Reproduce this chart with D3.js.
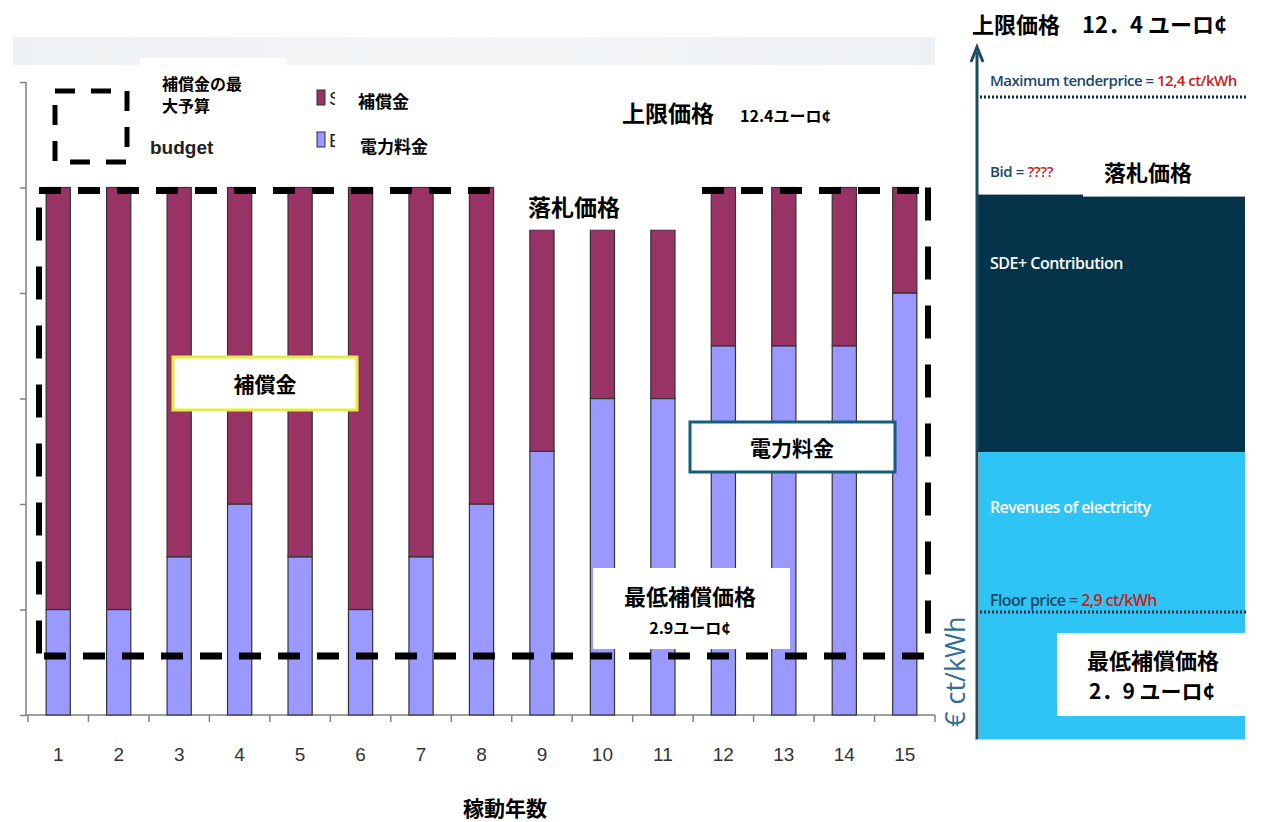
<!DOCTYPE html>
<html>
<head>
<meta charset="utf-8">
<script src="https://cdn.jsdelivr.net/npm/d3@7"></script>
<style>
  body { margin: 0; background: #fff; }
  svg { display: block; }
</style>
</head>
<body>
<div id="chart"></div>
<script>
'use strict'

// ---------------- data ----------------
const years = ['1', '2', '3', '4', '5', '6', '7', '8', '9', '10', '11', '12', '13', '14', '15']
const electricity = [1, 1, 1.5, 2, 1.5, 1, 1.5, 2, 2.5, 3, 3, 3.5, 3.5, 3.5, 4]
const subsidy = [4, 4, 3.5, 3, 3.5, 4, 3.5, 3, 2.1, 1.6, 1.6, 1.5, 1.5, 1.5, 1]
const yTicks = [0, 1, 2, 3, 4, 5, 6]
const budgetTop = 5
const budgetFloor = 0.56

// right hand schematic (ct/kWh)
const maxPrice = 12.4
const floorPrice = 2.9
const bidLevel = 10.6
const revenueLevel = 5.85
const panelBase = 0.55

const jp = '"Noto Sans CJK JP", sans-serif'
const en = '"Open Sans", sans-serif'

const svg = d3.select('#chart').append('svg')
    .attr('width', 1270)
    .attr('height', 822)

////////////// scales //////////////
const x = d3.scaleBand()
    .domain(years)
    .range([28, 935])
    .paddingInner(0.6)
    .paddingOuter(0.3)

const y = d3.scaleLinear()
    .domain([0, 6])
    .range([715, 82])

const rY = d3.scaleLinear()
    .domain([floorPrice, maxPrice])
    .range([612, 97])

// faint band at the top (slide header remains)
const grad = svg.append('defs').append('linearGradient').attr('id', 'band')
grad.append('stop').attr('offset', '0%').attr('stop-color', '#eef1f3')
grad.append('stop').attr('offset', '50%').attr('stop-color', '#f3f5f7')
grad.append('stop').attr('offset', '100%').attr('stop-color', '#eef1f4')
svg.append('rect')
    .attr('x', 13).attr('y', 37).attr('width', 922).attr('height', 28)
    .attr('fill', 'url(#band)')

////////////// axes //////////////
const yAxis = svg.append('g')
    .attr('transform', 'translate(26,0)')
    .call(d3.axisLeft(y).tickValues(yTicks).tickSize(6).tickFormat(''))
yAxis.select('.domain').attr('stroke', '#808080').attr('stroke-width', 1.5).attr('d', `M0,${y(6)}V${y(0)}`)
yAxis.selectAll('.tick line').attr('stroke', '#808080').attr('stroke-width', 1.5)

const step = x.step()
const boundaries = years.map(d => x(d) - x.paddingInner() * step / 2)
boundaries.push(x(years[years.length - 1]) + x.bandwidth() + x.paddingInner() * step / 2)

svg.append('line')
    .attr('x1', 26).attr('x2', 935).attr('y1', y(0)).attr('y2', y(0))
    .attr('stroke', '#808080').attr('stroke-width', 1.5)
svg.selectAll('.xtick')
    .data(boundaries)
    .join('line')
    .attr('class', 'xtick')
    .attr('x1', d => d).attr('x2', d => d)
    .attr('y1', y(0)).attr('y2', y(0) + 7)
    .attr('stroke', '#808080').attr('stroke-width', 1.5)

const xAxis = svg.append('g')
    .attr('transform', `translate(0,${y(0)})`)
    .call(d3.axisBottom(x).tickSize(0).tickPadding(33))
xAxis.select('.domain').remove()
xAxis.selectAll('text')
    .attr('font-family', '"Liberation Sans", Arial, sans-serif')
    .attr('font-size', 19)
    .attr('fill', '#333')

svg.append('text')
    .attr('x', 505).attr('y', 816)
    .attr('text-anchor', 'middle')
    .attr('font-family', jp).attr('font-size', 21).attr('font-weight', 700)
    .text('稼動年数')

////////////// bars //////////////
const table = years.map((d, i) => ({ year: d, electricity: electricity[i], subsidy: subsidy[i] }))
const stacked = d3.stack().keys(['electricity', 'subsidy'])(table)
const colors = { electricity: '#9999ff', subsidy: '#993366' }

svg.selectAll('.series')
    .data(stacked)
    .join('g')
    .attr('class', 'series')
    .attr('fill', d => colors[d.key])
    .selectAll('rect')
    .data(d => d)
    .join('rect')
    .attr('x', d => x(d.data.year))
    .attr('width', x.bandwidth())
    .attr('y', d => y(d[1]))
    .attr('height', d => y(d[0]) - y(d[1]))
    .attr('stroke', '#333')
    .attr('stroke-width', 1.2)

////////////// budget box (dashed) //////////////
const left = 39, right = 928
const dashH = { 'stroke': '#000', 'stroke-width': 7, 'stroke-dasharray': '22,17' }
const dashV = { 'stroke': '#000', 'stroke-width': 6, 'stroke-dasharray': '33,26' }
function styled(sel, st) { Object.keys(st).forEach(k => sel.attr(k, st[k])); return sel }

styled(svg.append('line').attr('x1', left).attr('x2', right).attr('y1', y(budgetTop) + 3).attr('y2', y(budgetTop) + 3), dashH)
styled(svg.append('line').attr('x1', left + 5).attr('x2', right).attr('y1', y(budgetFloor)).attr('y2', y(budgetFloor)), dashH)
styled(svg.append('line').attr('x1', left).attr('x2', left).attr('y1', y(budgetTop) + 20).attr('y2', y(budgetFloor)), dashV)
styled(svg.append('line').attr('x1', right).attr('x2', right).attr('y1', y(budgetTop)).attr('y2', y(budgetFloor)), dashV)

////////////// annotation boxes //////////////
// 落札価格 (covers the top of the dashed line over years 9-11)
svg.append('rect')
    .attr('x', 495).attr('y', 178).attr('width', 197).attr('height', y(electricity[8] + subsidy[8]) - 178)
    .attr('fill', '#fff')
svg.append('text')
    .attr('x', 528).attr('y', 216)
    .attr('font-family', jp).attr('font-size', 23).attr('font-weight', 700)
    .text('落札価格')

svg.append('rect')
    .attr('x', 173).attr('y', 357).attr('width', 184).attr('height', 53)
    .attr('fill', '#fff').attr('stroke', '#e4ee3e').attr('stroke-width', 3)
svg.append('text')
    .attr('x', 265).attr('y', 392).attr('text-anchor', 'middle')
    .attr('font-family', jp).attr('font-size', 21).attr('font-weight', 700)
    .text('補償金')

svg.append('rect')
    .attr('x', 690).attr('y', 422).attr('width', 205).attr('height', 50)
    .attr('fill', '#fff').attr('stroke', '#145e78').attr('stroke-width', 3)
svg.append('text')
    .attr('x', 792).attr('y', 456).attr('text-anchor', 'middle')
    .attr('font-family', jp).attr('font-size', 21).attr('font-weight', 700)
    .text('電力料金')

svg.append('rect')
    .attr('x', 593).attr('y', 568).attr('width', 197).attr('height', 81)
    .attr('fill', '#fff')
svg.append('text')
    .attr('x', 690).attr('y', 605).attr('text-anchor', 'middle')
    .attr('font-family', jp).attr('font-size', 22).attr('font-weight', 700)
    .text('最低補償価格')
svg.append('text')
    .attr('x', 690).attr('y', 634).attr('text-anchor', 'middle')
    .attr('font-family', jp).attr('font-size', 16).attr('font-weight', 700)
    .text('2.9ユーロ¢')

svg.append('text')
    .attr('x', 622).attr('y', 122)
    .attr('font-family', jp).attr('font-size', 23).attr('font-weight', 700)
    .text('上限価格')
svg.append('text')
    .attr('x', 740).attr('y', 122)
    .attr('font-family', jp).attr('font-size', 16).attr('font-weight', 700)
    .text('12.4ユーロ¢')

////////////// legend //////////////
svg.append('rect')
    .attr('x', 55).attr('y', 91).attr('width', 72).attr('height', 71)
    .attr('fill', 'none').attr('stroke', '#000').attr('stroke-width', 5)
    .attr('stroke-dasharray', '20,16')
svg.append('text')
    .attr('x', 150).attr('y', 154)
    .attr('font-family', '"Liberation Sans", Arial, sans-serif')
    .attr('font-size', 19).attr('font-weight', 700).attr('fill', '#222')
    .text('budget')

const legendItems = [
    { key: 'subsidy', letter: 'S', y: 90 },
    { key: 'electricity', letter: 'E', y: 132 }
]
legendItems.forEach(d => {
    svg.append('rect')
        .attr('x', 317).attr('y', d.y).attr('width', 8).attr('height', 15)
        .attr('fill', colors[d.key]).attr('stroke', '#333').attr('stroke-width', 1)
    svg.append('text')
        .attr('x', 329).attr('y', d.y + 15)
        .attr('font-family', '"Liberation Sans", Arial, sans-serif')
        .attr('font-size', 19).attr('fill', '#222')
        .text(d.letter)
})
svg.append('rect').attr('x', 335).attr('y', 80).attr('width', 110).attr('height', 90).attr('fill', '#fff')
svg.append('text')
    .attr('x', 358).attr('y', 108)
    .attr('font-family', jp).attr('font-size', 17).attr('font-weight', 700)
    .text('補償金')
svg.append('text')
    .attr('x', 360).attr('y', 153)
    .attr('font-family', jp).attr('font-size', 17).attr('font-weight', 700)
    .text('電力料金')

svg.append('rect').attr('x', 140).attr('y', 58).attr('width', 147).attr('height', 60).attr('fill', '#fff')
svg.append('text')
    .attr('x', 162).attr('y', 90)
    .attr('font-family', jp).attr('font-size', 16).attr('font-weight', 700)
    .text('補償金の最')
svg.append('text')
    .attr('x', 162).attr('y', 112)
    .attr('font-family', jp).attr('font-size', 16).attr('font-weight', 700)
    .text('大予算')

////////////// right hand schematic //////////////
const rLeft = 977, rRight = 1245
const navy = '#05344a', sky = '#2ec4f6', red = '#c8201c', ink = '#1b4868'

svg.append('rect')
    .attr('x', rLeft).attr('y', rY(bidLevel))
    .attr('width', rRight - rLeft).attr('height', rY(revenueLevel) - rY(bidLevel))
    .attr('fill', navy)
svg.append('rect')
    .attr('x', rLeft + 2).attr('y', rY(revenueLevel))
    .attr('width', rRight - rLeft - 2).attr('height', rY(panelBase) - rY(revenueLevel))
    .attr('fill', sky)

// arrow up the side
svg.append('line')
    .attr('x1', rLeft).attr('x2', rLeft).attr('y1', rY(panelBase)).attr('y2', 52)
    .attr('stroke', '#1d4a5c').attr('stroke-width', 3)
svg.append('path')
    .attr('d', `M${rLeft - 6},62L${rLeft},47L${rLeft + 6},62`)
    .attr('fill', 'none').attr('stroke', '#1d4a5c').attr('stroke-width', 3)

// dotted price lines
;[maxPrice, floorPrice].forEach(v => {
    svg.append('line')
        .attr('x1', rLeft + 3).attr('x2', rRight + 2).attr('y1', rY(v)).attr('y2', rY(v))
        .attr('stroke', '#0d2c44').attr('stroke-width', 3).attr('stroke-dasharray', '2,2')
})

// label in two colours, one text element with two tspans
function twoTone(xPos, yPos, a, b, size, spacing) {
    const t = svg.append('text')
        .attr('x', xPos).attr('y', yPos)
        .attr('font-family', en).attr('font-size', size).attr('font-weight', 600)
        .attr('letter-spacing', spacing)
    t.append('tspan').attr('fill', ink).text(a + ' ')
    t.append('tspan').attr('fill', red).text(b)
}
twoTone(990, 86, 'Maximum tenderprice =', '12,4 ct/kWh', 15, -0.5)
twoTone(990, 177, 'Bid =', '????', 15, -0.4)
twoTone(990, 606, 'Floor price =', '2,9 ct/kWh', 16, -0.6)

svg.append('text')
    .attr('x', 990).attr('y', 269)
    .attr('font-family', en).attr('font-size', 16).attr('font-weight', 600).attr('fill', '#fff')
    .attr('letter-spacing', -0.5)
    .text('SDE+ Contribution')
svg.append('text')
    .attr('x', 990).attr('y', 513)
    .attr('font-family', en).attr('font-size', 16).attr('font-weight', 600).attr('fill', '#fff')
    .attr('letter-spacing', -0.6)
    .text('Revenues of electricity')

svg.append('text')
    .attr('transform', 'translate(965,727) rotate(-90)')
    .attr('font-family', en).attr('font-size', 27).attr('fill', '#2f6f94')
    .text('€ ct/kWh')

// white label boxes on the schematic
svg.append('rect')
    .attr('x', 1083).attr('y', 152).attr('width', rRight - 1083).attr('height', rY(bidLevel) + 2 - 152)
    .attr('fill', '#fff')
svg.append('text')
    .attr('x', 1104).attr('y', 181)
    .attr('font-family', jp).attr('font-size', 22).attr('font-weight', 700)
    .text('落札価格')

svg.append('rect')
    .attr('x', 1057).attr('y', 633).attr('width', rRight - 1057).attr('height', 83)
    .attr('fill', '#fff')
svg.append('text')
    .attr('x', 1153).attr('y', 669).attr('text-anchor', 'middle')
    .attr('font-family', jp).attr('font-size', 22).attr('font-weight', 700)
    .text('最低補償価格')
svg.append('text')
    .attr('x', 1152).attr('y', 699).attr('text-anchor', 'middle')
    .attr('font-family', jp).attr('font-size', 21).attr('font-weight', 700)
    .text('2．9 ユーロ¢')

svg.append('text')
    .attr('x', 972).attr('y', 33)
    .attr('font-family', jp).attr('font-size', 22).attr('font-weight', 700)
    .text('上限価格　12．4 ユーロ¢')
</script>
</body>
</html>
